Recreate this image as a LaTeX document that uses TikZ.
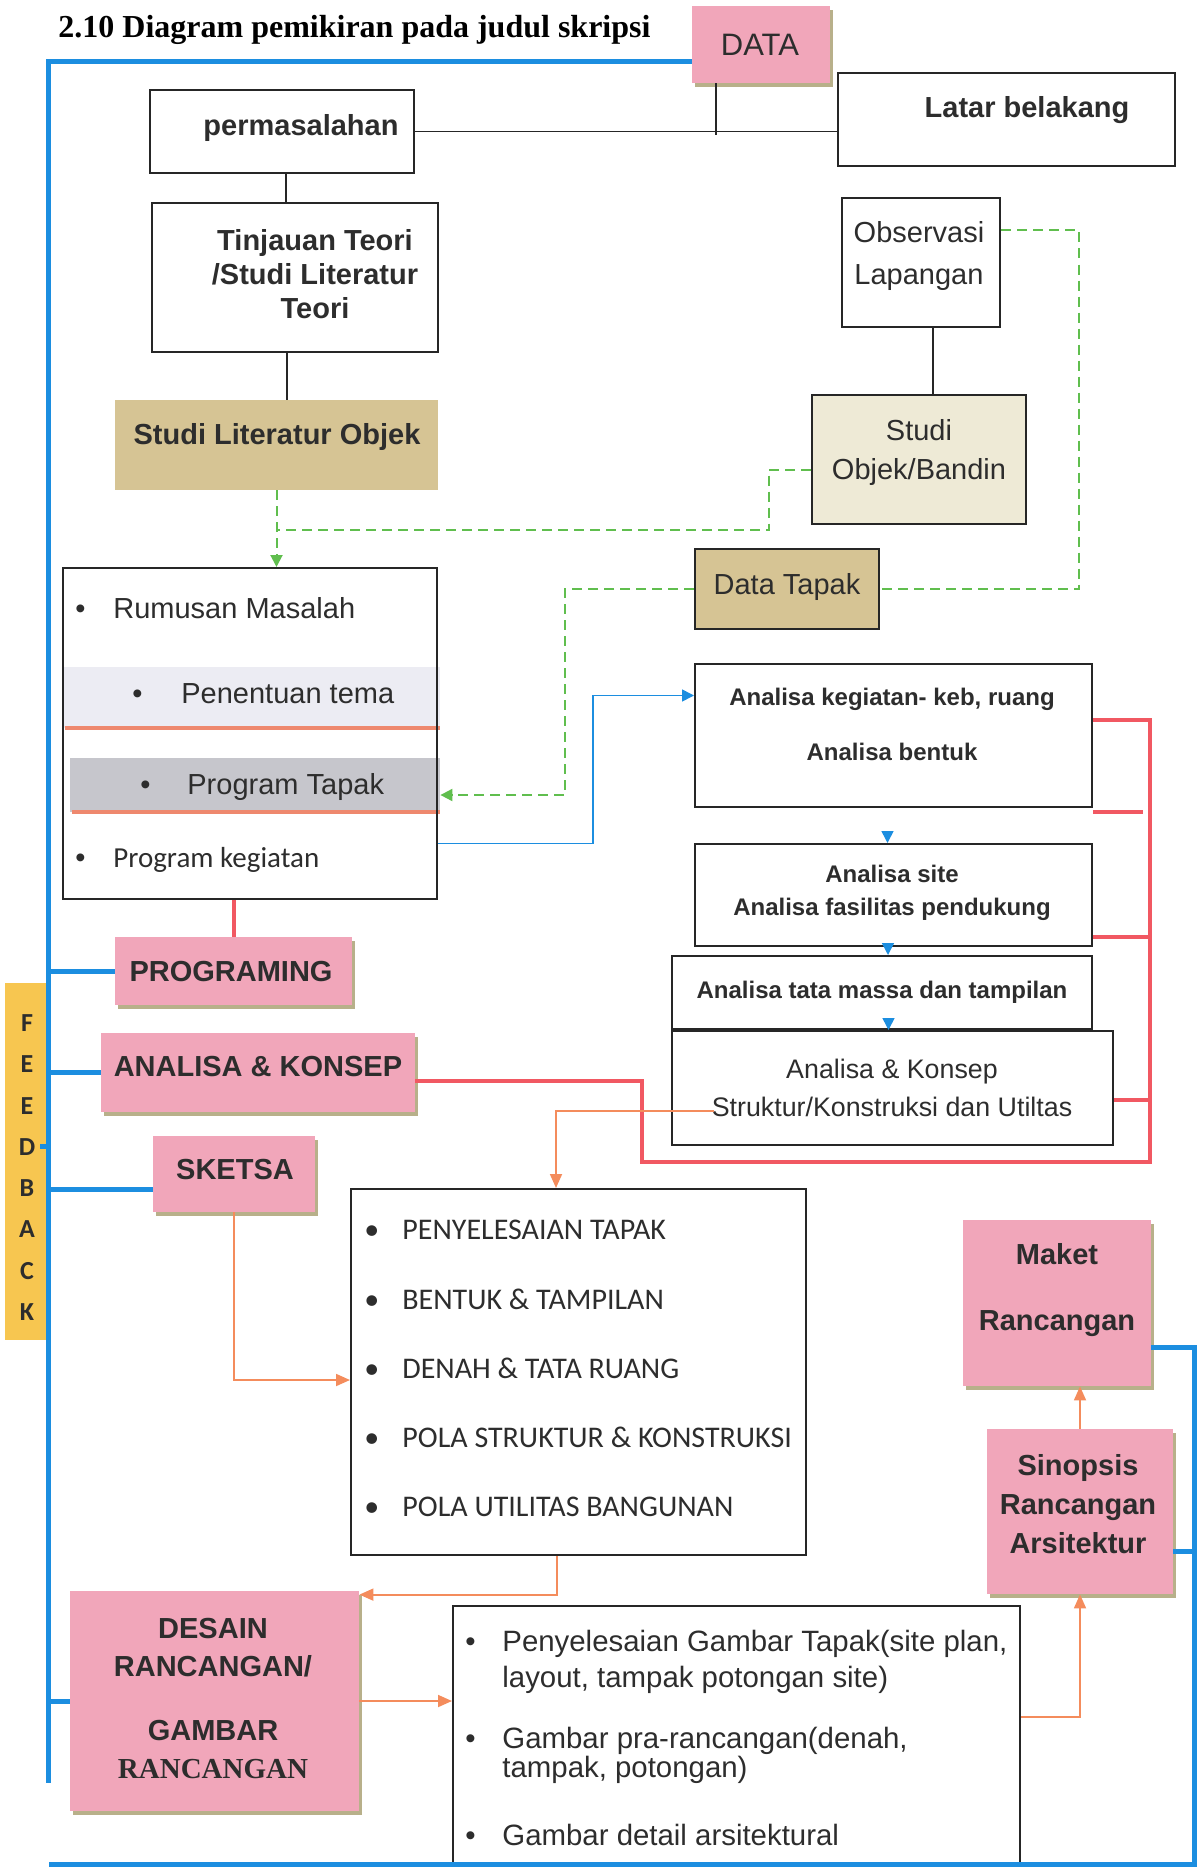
\documentclass[tikz,border=0pt]{standalone}
\usepackage{fontspec}
\setmainfont{Liberation Sans}
\newfontfamily\calfont{Carlito}
\newfontfamily\serfont{Liberation Serif}
\usepackage{tikz}
\usetikzlibrary{positioning,fit,shadows,arrows.meta}

\definecolor{pinkfill}{RGB}{241,166,186}
\definecolor{pshadow}{RGB}{184,176,138}
\definecolor{tanfill}{RGB}{214,196,148}
\definecolor{beigefill}{RGB}{238,234,214}
\definecolor{bandlight}{RGB}{236,236,243}
\definecolor{bandgray}{RGB}{198,198,204}
\definecolor{bandline}{RGB}{238,136,110}
\definecolor{fbyellow}{RGB}{247,198,80}
\definecolor{fbblue}{RGB}{28,142,224}
\definecolor{redline}{RGB}{241,88,98}
\definecolor{orline}{RGB}{244,140,92}
\definecolor{grline}{RGB}{96,190,78}
\definecolor{ink}{RGB}{45,45,45}

\newcommand{\itembul}[1]{\makebox[#1][l]{\textbullet}}

\begin{document}
\begin{tikzpicture}[x=0.5pt, y=-0.5pt,
  every node/.style={text=ink, inner sep=0pt},
  plainbox/.style={draw=black!85, line width=1pt},
  pinkbox/.style={fill=pinkfill, drop shadow={shadow xshift=1.5pt, shadow yshift=-2pt, fill=pshadow, opacity=1}},
  lblb/.style={font=\fontsize{14.5}{17}\selectfont\bfseries, align=center},
  lbl/.style={font=\fontsize{14.5}{17}\selectfont, align=center},
  anab/.style={font=\fontsize{12}{16.5}\selectfont\bfseries, align=center},
  listtxt/.style={anchor=west, font=\fontsize{14.5}{17}\selectfont},
  ln/.style={draw=black!85, line width=0.8pt},
  fbline/.style={draw=fbblue, line width=2.5pt},
  thinb/.style={draw=fbblue, line width=0.8pt, -{Triangle[length=6pt,width=6pt]}},
  redc/.style={draw=redline, line width=2pt},
  orc/.style={draw=orline, line width=0.9pt, -{Triangle[length=7pt,width=6pt]}},
  grnl/.style={draw=grline, line width=1pt, dash pattern=on 5pt off 3pt},
  grn/.style={grnl, -{Triangle[length=6pt,width=6pt]}}]

\useasboundingbox (0,0) rectangle (1199,1867);

\node[anchor=west, text=black, font=\serfont\bfseries\fontsize{16}{19}\selectfont] (title) at (58,30) {2.10 Diagram pemikiran pada judul skripsi};

% top row
\node[pinkbox, fit={(692,6) (830,83)}] (data) {};
\node[lbl, font=\fontsize{15.5}{18}\selectfont] (data-t) at (760,45) {DATA};
\node[plainbox, fit={(150,90) (414,173)}] (masalah) {};
\node[lblb] (masalah-t) at (301,128) {permasalahan};
\node[plainbox, fit={(838,73) (1175,166)}] (latar) {};
\node[lblb] (latar-t) at (1027,110) {Latar belakang};

\node[plainbox, fit={(152,203) (438,352)}] (tinj) {};
\node[lblb] (tinj-t) at (315,274) {Tinjauan Teori\\/Studi Literatur\\Teori};
\node[fill=tanfill, fit={(115,400) (438,490)}] (sliter) {};
\node[lblb] (sliter-t) at (277,437) {Studi Literatur Objek};

\node[plainbox, fit={(842,198) (1000,327)}] (obs) {};
\node[lbl, font=\fontsize{14.5}{21}\selectfont] (obs-t) at (919,256) {Observasi\\Lapangan};
\node[plainbox, fill=beigefill, fit={(812,395) (1026,524)}] (studi) {};
\node[lbl, font=\fontsize{14.5}{19.5}\selectfont] (studi-t) at (919,452) {Studi\\Objek/Bandin};
\node[plainbox, fill=tanfill, fit={(695,549) (879,629)}] (tapak) {};
\node[lbl] (tapak-t) at (787,587) {Data Tapak};

% programming box with bands
\node[fill=bandlight, fit={(63,667) (440,728)}] (band1) {};
\draw[draw=bandline, line width=2pt] (band1.south west) ++(2,0) -- (band1.south east);
\node[fill=bandgray, fit={(70,758) (440,812)}] (band2) {};
\draw[draw=bandline, line width=2pt] (band2.south west) ++(2,0) -- (band2.south east);
\node[plainbox, fit={(63,568) (437,899)}] (main) {};
\node[listtxt] (rumusan) at (75,608) {\itembul{19pt}Rumusan Masalah};
\node[listtxt] (tema) at (132,694) {\itembul{24.5pt}Penentuan tema};
\node[listtxt] (ptapak) at (140,787) {\itembul{23.5pt}Program Tapak};
\node[listtxt] (kegiatan) at (75,860) {\itembul{19pt}\calfont Program kegiatan};

% analysis column
\node[plainbox, fit={(695,664) (1092,807)}] (ana1) {};
\node[anab, font=\fontsize{12}{27.5}\selectfont\bfseries] (ana1-t) at (892,724) {Analisa kegiatan- keb, ruang\\Analisa bentuk};
\node[plainbox, fit={(695,844) (1092,946)}] (ana2) {};
\node[anab] (ana2-t) at (892,893) {Analisa site\\Analisa fasilitas pendukung};
\node[plainbox, fit={(672,956) (1092,1029)}] (ana3) {};
\node[anab] (ana3-t) at (882,992) {Analisa tata massa dan tampilan};
\node[plainbox, fit={(672,1031) (1113,1145)}] (ana4) {};
\node[lbl, font=\fontsize{13.4}{19}\selectfont] (ana4-t) at (892,1088) {Analisa \& Konsep\\Struktur/Konstruksi dan Utiltas};

% stages
\node[fill=fbyellow, fit={(5,983) (49,1340)}] (fbbar) {};
\foreach \ch [count=\i from 0] in {F,E,E,D,B,A,C,K}
  \node[font=\calfont\bfseries\fontsize{13}{15}\selectfont] (fb\i) at (27,{1023+41.3*\i}) {\ch};

\node[pinkbox, fit={(115,937) (352,1005)}] (prog) {};
\node[lblb] (prog-t) at (231,972) {PROGRAMING};
\node[pinkbox, fit={(101,1033) (415,1112)}] (akonsep) {};
\node[lblb] (akonsep-t) at (258,1067) {ANALISA \& KONSEP};
\node[pinkbox, fit={(153,1136) (315,1212)}] (sketsa) {};
\node[lblb] (sketsa-t) at (235,1170) {SKETSA};
\node[pinkbox, fit={(70,1591) (359,1811)}] (desain) {};
\node[lblb, font=\fontsize{14.5}{19}\selectfont\bfseries] (desain-t) at (213,1698) {DESAIN\\RANCANGAN/\\[13pt]GAMBAR\\{\serfont RANCANGAN}};
\node[pinkbox, fit={(963,1220) (1151,1386)}] (maket) {};
\node[lblb, font=\fontsize{14.5}{33}\selectfont\bfseries] (maket-t) at (1057,1290) {Maket\\Rancangan};
\node[pinkbox, fit={(987,1429) (1173,1594)}] (sinop) {};
\node[lblb, font=\fontsize{14.5}{19.5}\selectfont\bfseries] (sinop-t) at (1078,1504) {Sinopsis\\Rancangan\\Arsitektur};

% sketch list
\node[plainbox, fit={(351,1189) (806,1555)}] (elist) {};
\foreach \t [count=\i from 0] in {PENYELESAIAN TAPAK, BENTUK \& TAMPILAN, DENAH \& TATA RUANG, POLA STRUKTUR \& KONSTRUKSI, POLA UTILITAS BANGUNAN}
  \node[anchor=west, font=\calfont\fontsize{15}{18}\selectfont] (pe\i) at (364,{1230+69.2*\i}) {\itembul{19pt}\t};

% drawing list
\node[plainbox, fit={(453,1606) (1020,1880)}] (flist) {};
\node[listtxt, font=\fontsize{14.7}{18}\selectfont] (f1a) at (465,1644) {\itembul{18.5pt}Penyelesaian Gambar Tapak(site plan,};
\node[listtxt, font=\fontsize{14.7}{18}\selectfont] (f1b) at (502,1680) {layout, tampak potongan site)};
\node[listtxt, font=\fontsize{14.7}{18}\selectfont] (f2a) at (465,1741) {\itembul{18.5pt}Gambar pra-rancangan(denah,};
\node[listtxt, font=\fontsize{14.7}{18}\selectfont] (f2b) at (502,1770) {tampak, potongan)};
\node[listtxt, font=\fontsize{14.7}{18}\selectfont] (f3) at (465,1835) {\itembul{18.5pt}Gambar detail arsitektural};

% black links
\draw[ln] (masalah.east) -- (masalah.east -| latar.west);
\draw[ln] ([xshift=-22.5pt]data.south) -- ++(0,52);
\draw[ln] ([xshift=2pt]masalah.south) -- ([xshift=2pt]masalah.south |- tinj.north);
\draw[ln] ([xshift=-4pt]tinj.south) -- ([xshift=-4pt]tinj.south |- sliter.north);
\draw[ln] ([xshift=6pt]obs.south) -- ([xshift=6pt]obs.south |- studi.north);

% green dashed links
\draw[grn] (sliter.south) -- (sliter.south |- main.north);
\draw[grnl] ([yshift=-5pt]studi.west) -- ++(-42,0) |- ([yshift=-20pt]sliter.south);
\draw[grnl] ([yshift=16pt]obs.east) -- ++(78,0) |- (tapak.east);
\draw[grn] (tapak.west) -- ++(-129,0) |- ([yshift=-5pt]band2.east);

% blue
\coordinate (railtop) at (48,62);
\coordinate (railfoot) at (48,1783);
\coordinate (railbot) at (1194,1864);
\coordinate (railend) at (49,1864);
\draw[fbline] (railtop -| data.west) -- (railtop) -- (railfoot);
\draw[fbline] (prog.west) -- (prog.west -| railtop);
\draw[fbline] (akonsep.west) -- (akonsep.west -| railtop);
\draw[fbline] ([yshift=-7.5pt]sketsa.west) -- ([yshift=-7.5pt]sketsa.west -| railtop);
\draw[fbline] (desain.west) -- (desain.west -| railtop);
\draw[fbline] (railtop |- fb3) -- ([xshift=-4pt]railtop |- fb3);
\draw[fbline] ([yshift=-22pt]maket.east) -| (railbot) -- (railend);
\draw[fbline] ([yshift=-20pt]sinop.east) -- ([yshift=-20pt]sinop.east -| railbot);

\draw[thinb] ([yshift=-55pt]main.east) -- ++(155,0) |- ([yshift=20pt]ana1.west);
\draw[thinb] ([xshift=-3pt,yshift=6pt]ana2.north) -- ([xshift=-3pt]ana2.north);
\draw[thinb] ([xshift=3pt,yshift=6pt]ana3.north) -- ([xshift=3pt]ana3.north);
\draw[thinb] ([xshift=-2pt,yshift=6pt]ana4.north) -- ([xshift=-2pt]ana4.north);

% red
\coordinate (rtop) at (1150,720);
\coordinate (rbot) at (1150,1162);
\draw[redc] (main.south -| prog.north) -- (prog.north);
\draw[redc] ([yshift=-4pt]akonsep.east) -- ++(227,0) |- (rbot) -- (rtop) -- ([yshift=7.75pt]ana1.east);
\draw[redc] ([yshift=-2pt]ana1.south east) -- ++(50,0);
\draw[redc] ([yshift=5pt]ana2.south east) -- ++(58,0);
\draw[redc] ([yshift=-6pt]ana4.east) -- ++(37,0);

% orange
\draw[orc] ([xshift=21.5pt,yshift=-11.5pt]ana4.west) -| ([xshift=-11.25pt]elist.north);
\draw[orc] (sketsa.south) |- ([yshift=-4pt]elist.west);
\draw[orc] ([xshift=-10.75pt]elist.south) |- ([yshift=-2pt]desain.north east);
\draw[orc] (desain.east) -- (desain.east -| flist.west);
\draw[orc] ([yshift=13pt]flist.east) -| (sinop.south);
\draw[orc] (sinop.north) -- (sinop.north |- maket.south);

\end{tikzpicture}
\end{document}
